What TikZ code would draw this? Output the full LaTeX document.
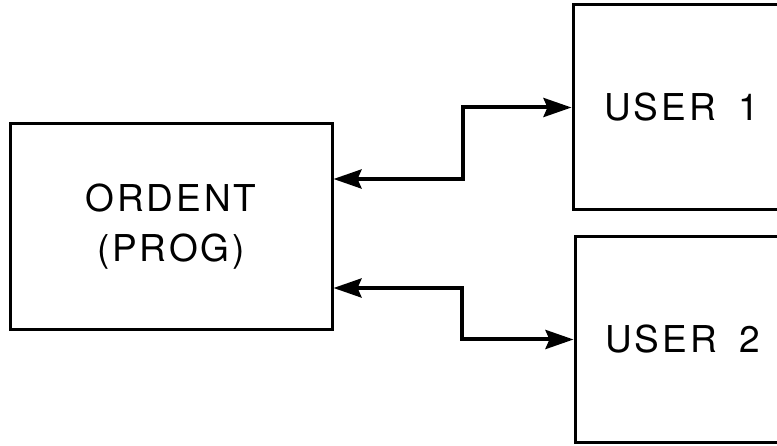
\documentclass[tikz,border=0pt]{standalone}
\usepackage{fontspec}
\setmainfont{TeX Gyre Heros}
\newfontfamily\boxfont[LetterSpace=8]{TeX Gyre Heros}
\usetikzlibrary{arrows.meta,positioning,calc}

\begin{document}
\begin{tikzpicture}[x=1pt,y=-1pt,font=\boxfont\fontsize{37}{50}\selectfont,
  blk/.style={draw,line width=3pt,inner sep=0pt,align=center},
  link/.style={line width=4pt,{Stealth[length=28pt,width=19pt,inset=4pt]}-{Stealth[length=28pt,width=19pt,inset=4pt]}}]
\useasboundingbox (0,0) rectangle (777,446);
\node[blk,minimum width=322pt,minimum height=206pt] (ordent) at (171,227) {ORDENT\\(PROG)};
\node[blk,minimum width=217pt,minimum height=205pt] (user1) at (681.5,107.5) {USER\hspace{0.6em}1};
\node[blk,minimum width=215pt,minimum height=205pt] (user2) at (682.5,339.5) {USER\hspace{0.6em}2};
\draw[link] ([yshift=48pt]ordent.east) -- ++(129,0) |- (user1.west);
\draw[link] ([yshift=-61pt]ordent.east) -- ++(128,0) |- (user2.west);
\end{tikzpicture}
\end{document}
